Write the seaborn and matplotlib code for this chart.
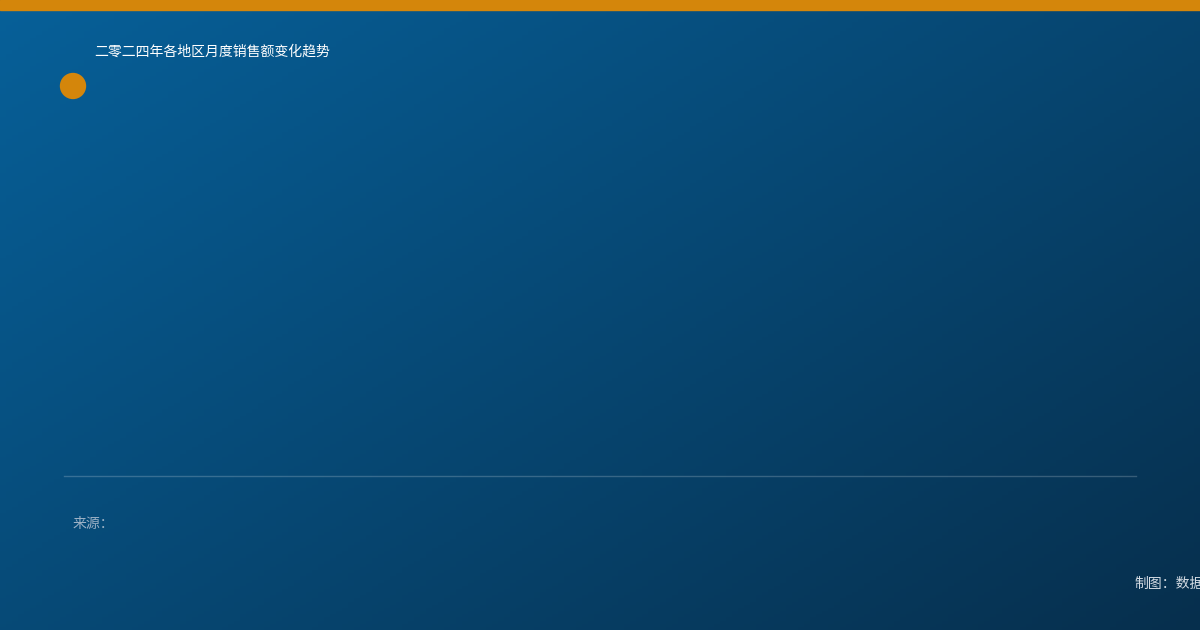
import matplotlib.pyplot as plt
import seaborn as sns
import numpy as np
import pandas as pd

# chart data (a single highlighted point, as in the reference)
periods = [0]
values = [1.0]

title_text = "二零二四年各地区月度销售额变化趋势"
source_text = "来源："
credit_text = "制图：数据新闻实验室"

sns.set_theme(style="white")
plt.rcParams['font.family'] = ['Noto Sans CJK SC', 'DejaVu Sans']

W, H = 1200, 630
fig = plt.figure(figsize=(12, 6.3), dpi=100)

# diagonal gradient background
bg = fig.add_axes([0, 0, 1, 1])
bg.set_axis_off()
yy, xx = np.mgrid[0:1:200j, 0:1:200j]
t = (xx * 0.55 + yy * 0.45)
c0 = np.array([7, 96, 153]) / 255
c1 = np.array([6, 47, 77]) / 255
img = c0[None, None, :] * (1 - t[..., None]) + c1[None, None, :] * t[..., None]
bg.imshow(img, extent=[0, W, H, 0], aspect='auto', zorder=0)
# top accent band
bg.axhspan(0, 10, color='#d4860b', zorder=1)
bg.set_xlim(0, W)
bg.set_ylim(H, 0)

# plot area
ax = fig.add_axes([64 / W, (H - 476) / H, 1072 / W, (476 - 70) / H])
ax.patch.set_alpha(0)
df = pd.DataFrame({'period': periods, 'value': values})
sns.scatterplot(data=df, x='period', y='value', ax=ax, s=360,
                color='#d4860b', edgecolor='none', legend=False, clip_on=False)
ax.set_xlim(-0.0847, 10)
ax.set_ylim(0, 1.041)
ax.set_xticks([])
ax.set_yticks([])
ax.set_xlabel('')
ax.set_ylabel('')
for side in ['top', 'left', 'right']:
    ax.spines[side].set_visible(False)
ax.spines['bottom'].set_color((1, 1, 1, 0.2))
ax.spines['bottom'].set_linewidth(1)

fig.text(94 / W, 1 - 52 / H, title_text, color='white', fontsize=10,
         ha='left', va='center')
fig.text(73 / W, 1 - 524 / H, source_text, color='#9db2c6', fontsize=10,
         ha='left', va='center')
fig.text(1134 / W, 1 - 584 / H, credit_text, color='#d3dbe3', fontsize=10,
         ha='left', va='center')

fig.savefig('out.png', dpi=100)
